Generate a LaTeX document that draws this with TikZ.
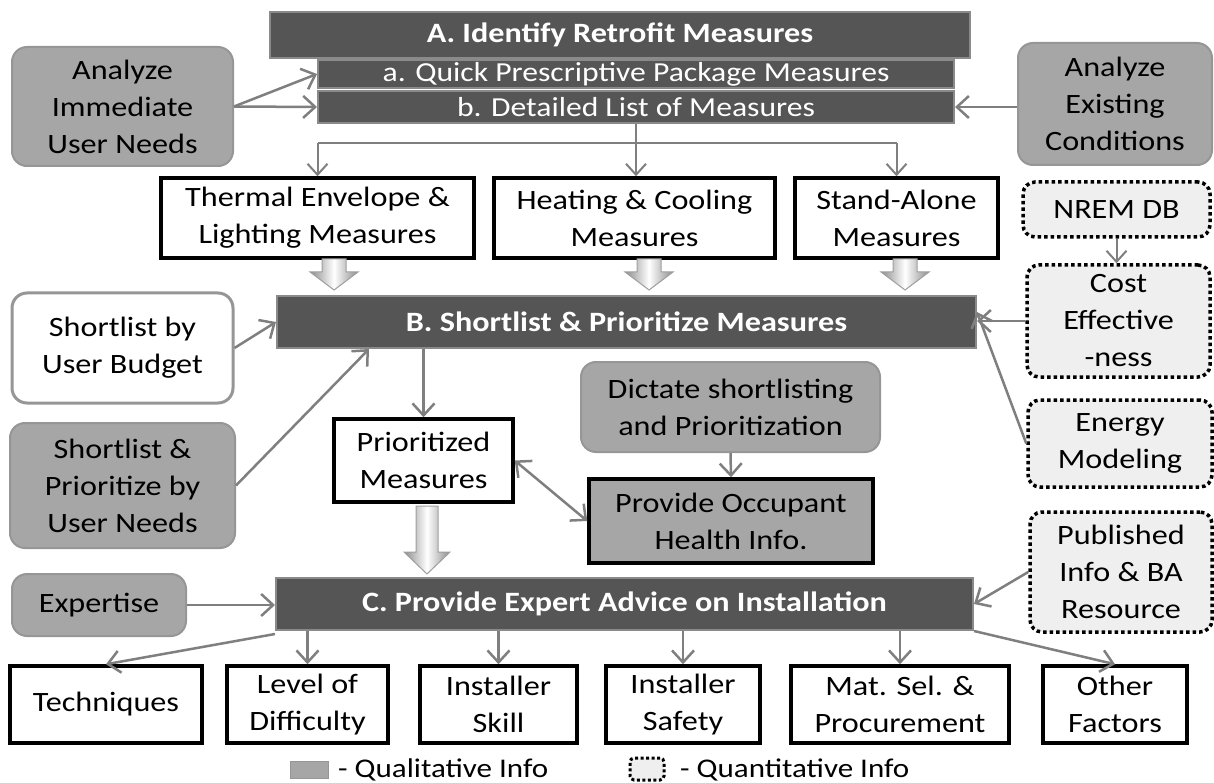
\documentclass[tikz,border=0pt]{standalone}
\usepackage{fontspec}
\setmainfont{Carlito}[FakeStretch=1.15]
\usetikzlibrary{arrows.meta}
\definecolor{hdr}{HTML}{555555}
\definecolor{hdrborder}{HTML}{8A8A8A}
\definecolor{qual}{HTML}{A6A6A6}
\definecolor{qualborder}{HTML}{969696}
\definecolor{quant}{HTML}{EFEFEF}
\definecolor{conn}{HTML}{7F7F7F}
\newcommand\blockarr[6]{%
  \shadedraw[left color=gray!90, right color=gray!90, middle color=white, draw=gray!75, line width=1pt]
    ({#1-#4},#2) -- ({#1+#4},#2) -- ({#1+#4},#6) -- ({#1+#5},#6) -- (#1,#3) -- ({#1-#5},#6) -- ({#1-#4},#6) -- cycle;}
\tikzset{
  hdrbox/.style={draw=hdrborder, line width=2pt, fill=hdr, text=white, inner sep=0pt,
    font=\fontsize{28}{33}\selectfont\bfseries},
  subbox/.style={draw=hdrborder, line width=2pt, fill=hdr, text=white, inner sep=0pt,
    font=\fontsize{27.5}{33}\selectfont},
  qualbox/.style={draw=qualborder, line width=2pt, fill=qual, rounded corners=15pt, inner sep=0pt,
    align=center, font=\fontsize{28}{37}\selectfont},
  whitebox/.style={draw=qualborder, line width=3pt, fill=white, rounded corners=15pt, inner sep=0pt,
    align=center, font=\fontsize{28}{37}\selectfont},
  quantbox/.style={draw=black, line width=3.5pt, dash pattern=on 3.5pt off 3pt, fill=quant,
    rounded corners=12pt, inner sep=0pt, align=center, font=\fontsize{28}{37}\selectfont},
  outbox/.style={draw=black, line width=3.5pt, fill=white, inner sep=0pt, align=center,
    font=\fontsize{28}{37}\selectfont},
  conn/.style={draw=conn, line width=2.5pt, -{Straight Barb[length=12pt,width=22pt]}},
  thinconn/.style={draw=conn, line width=2pt, -{Straight Barb[length=11pt,width=20pt]}},
  plain/.style={draw=conn, line width=2pt},
  legtext/.style={anchor=base west, inner sep=0pt, font=\fontsize{27}{30}\selectfont},
}
\begin{document}
\begin{tikzpicture}[x=1pt,y=-1pt]
\useasboundingbox (0,0) rectangle (1214,783);
% A section
\node[hdrbox, minimum width=700pt, minimum height=46pt] (A) at (620,35) {A. Identify Retrofit Measures};
\node[subbox, minimum width=636pt, minimum height=28pt] (qa) at (636,74) {a. Quick Prescriptive Package Measures};
\node[subbox, minimum width=636pt, minimum height=32pt] (qb) at (636,107) {b. Detailed List of Measures};
\node[qualbox, minimum width=221pt, minimum height=119pt] (ai) at (122.5,106.5) {Analyze\\Immediate\\User Needs};
\node[qualbox, minimum width=194pt, minimum height=122pt] (ae) at (1115,104) {Analyze\\Existing\\Conditions};
\draw[conn] (ai.east) -- (qa.west);
\draw[conn] (ai.east) -- (qb.west);
\draw[conn] (ae.west |- qb.east) -- (qb.east);
% measures
\node[outbox, minimum width=313pt, minimum height=80pt] (th) at (317.5,218) {Thermal Envelope \&\\Lighting Measures};
\node[outbox, minimum width=281pt, minimum height=80pt] (hc) at (634.5,218) {Heating \& Cooling\\Measures};
\node[outbox, minimum width=203pt, minimum height=80pt] (sa) at (896.5,218) {Stand-Alone\\Measures};
\coordinate (split) at (636,143);
\draw[thinconn] (qb.south) -- (qb.south |- hc.north);
\draw[plain] (split -| th.north) -- (split -| sa.north);
\draw[thinconn] (split -| th.north) -- (th.north);
\draw[thinconn] (split -| sa.north) -- (sa.north);
% right column
\node[quantbox, minimum width=187pt, minimum height=55pt] (nr) at (1116.5,209.5) {NREM DB};
\node[quantbox, minimum width=183pt, minimum height=112pt] (ce) at (1118.5,321) {Cost\\Effective\\-ness};
\node[quantbox, minimum width=184pt, minimum height=87pt] (em) at (1120,443.5) {Energy\\Modeling};
\node[quantbox, minimum width=182pt, minimum height=120pt] (pb) at (1121,572) {Published\\Info \& BA\\Resource};
\draw[thinconn] (nr.south) -- (nr.south |- ce.north);
% B section
\node[hdrbox, minimum width=699pt, minimum height=52pt] (B) at (626.5,322) {B. Shortlist \& Prioritize Measures};
\blockarr{334}{259}{290}{12}{24}{272}
\blockarr{649}{259}{290}{12}{24}{272}
\blockarr{905}{259}{290}{12}{24}{272}
\node[whitebox, minimum width=221pt, minimum height=110pt] (bu) at (122.5,348) {Shortlist by\\User Budget};
\node[qualbox, minimum width=225pt, minimum height=125pt] (un) at (122.5,485.5) {Shortlist \&\\Prioritize by\\User Needs};
\draw[conn] (bu.east) -- (B.west);
\draw[conn] (un.east) -- ([xshift=93pt]B.south west);
\draw[conn] (ce.west) -- (ce.west -| B.east);
\draw[conn] (em.west) -- ([yshift=10pt]B.east);
\node[outbox, minimum width=179pt, minimum height=83pt] (pm) at (423.5,460.5) {Prioritized\\Measures};
\node[qualbox, minimum width=299pt, minimum height=90pt] (dp) at (730.5,407) {Dictate shortlisting\\and Prioritization};
\node[outbox, fill=qual, minimum width=284pt, minimum height=84pt] (po) at (731,521) {Provide Occupant\\Health Info.};
\draw[conn] (pm.north |- B.south) -- (pm.north);
\draw[conn] (dp.south) -- (po.north);
\draw[conn, {Straight Barb[length=12pt,width=22pt]}-{Straight Barb[length=12pt,width=22pt]}] (pm.east) -- (po.west);
\blockarr{427}{506}{574}{11}{23}{552}
% C section
\node[hdrbox, minimum width=697pt, minimum height=52pt] (C) at (624.5,604) {C. Provide Expert Advice on Installation};
\node[qualbox, minimum width=174pt, minimum height=62pt] (ex) at (99,605) {Expertise};
\draw[conn] (ex.east) -- (ex.east -| C.west);
\draw[conn] (pb.west) -- (C.east);
\node[outbox, minimum width=192pt, minimum height=77pt] (te) at (106,704.5) {Techniques};
\node[outbox, minimum width=161pt, minimum height=77pt] (lv) at (307.5,704.5) {Level of\\Difficulty};
\node[outbox, minimum width=157pt, minimum height=77pt] (is) at (498.5,704.5) {Installer\\Skill};
\node[outbox, minimum width=154pt, minimum height=77pt] (sf) at (683,704.5) {Installer\\Safety};
\node[outbox, minimum width=218pt, minimum height=77pt] (ms) at (900,704.5) {Mat. Sel. \&\\Procurement};
\node[outbox, minimum width=144pt, minimum height=77pt] (of) at (1115,704.5) {Other\\Factors};
\draw[conn] ([yshift=-3pt]C.south west) -- (te.north);
\draw[conn] (lv.north |- C.south) -- (lv.north);
\draw[conn] (is.north |- C.south) -- (is.north);
\draw[conn] (sf.north |- C.south) -- (sf.north);
\draw[conn] (ms.north |- C.south) -- (ms.north);
\draw[conn] (C.south east) -- (of.north);
% legend
\node[fill=qual, draw=qualborder, line width=1pt, minimum width=38pt, minimum height=17pt, inner sep=0pt] (lq) at (309,770) {};
\node[legtext] (lqt) at (338,777) {- Qualitative Info};
\node[quantbox, rounded corners=4pt, line width=3pt, dash pattern=on 3pt off 2.5pt, minimum width=34pt, minimum height=22pt] (lz) at (647,769) {};
\node[legtext] (lzt) at (680,777) {- Quantitative Info};
\end{tikzpicture}
\end{document}
